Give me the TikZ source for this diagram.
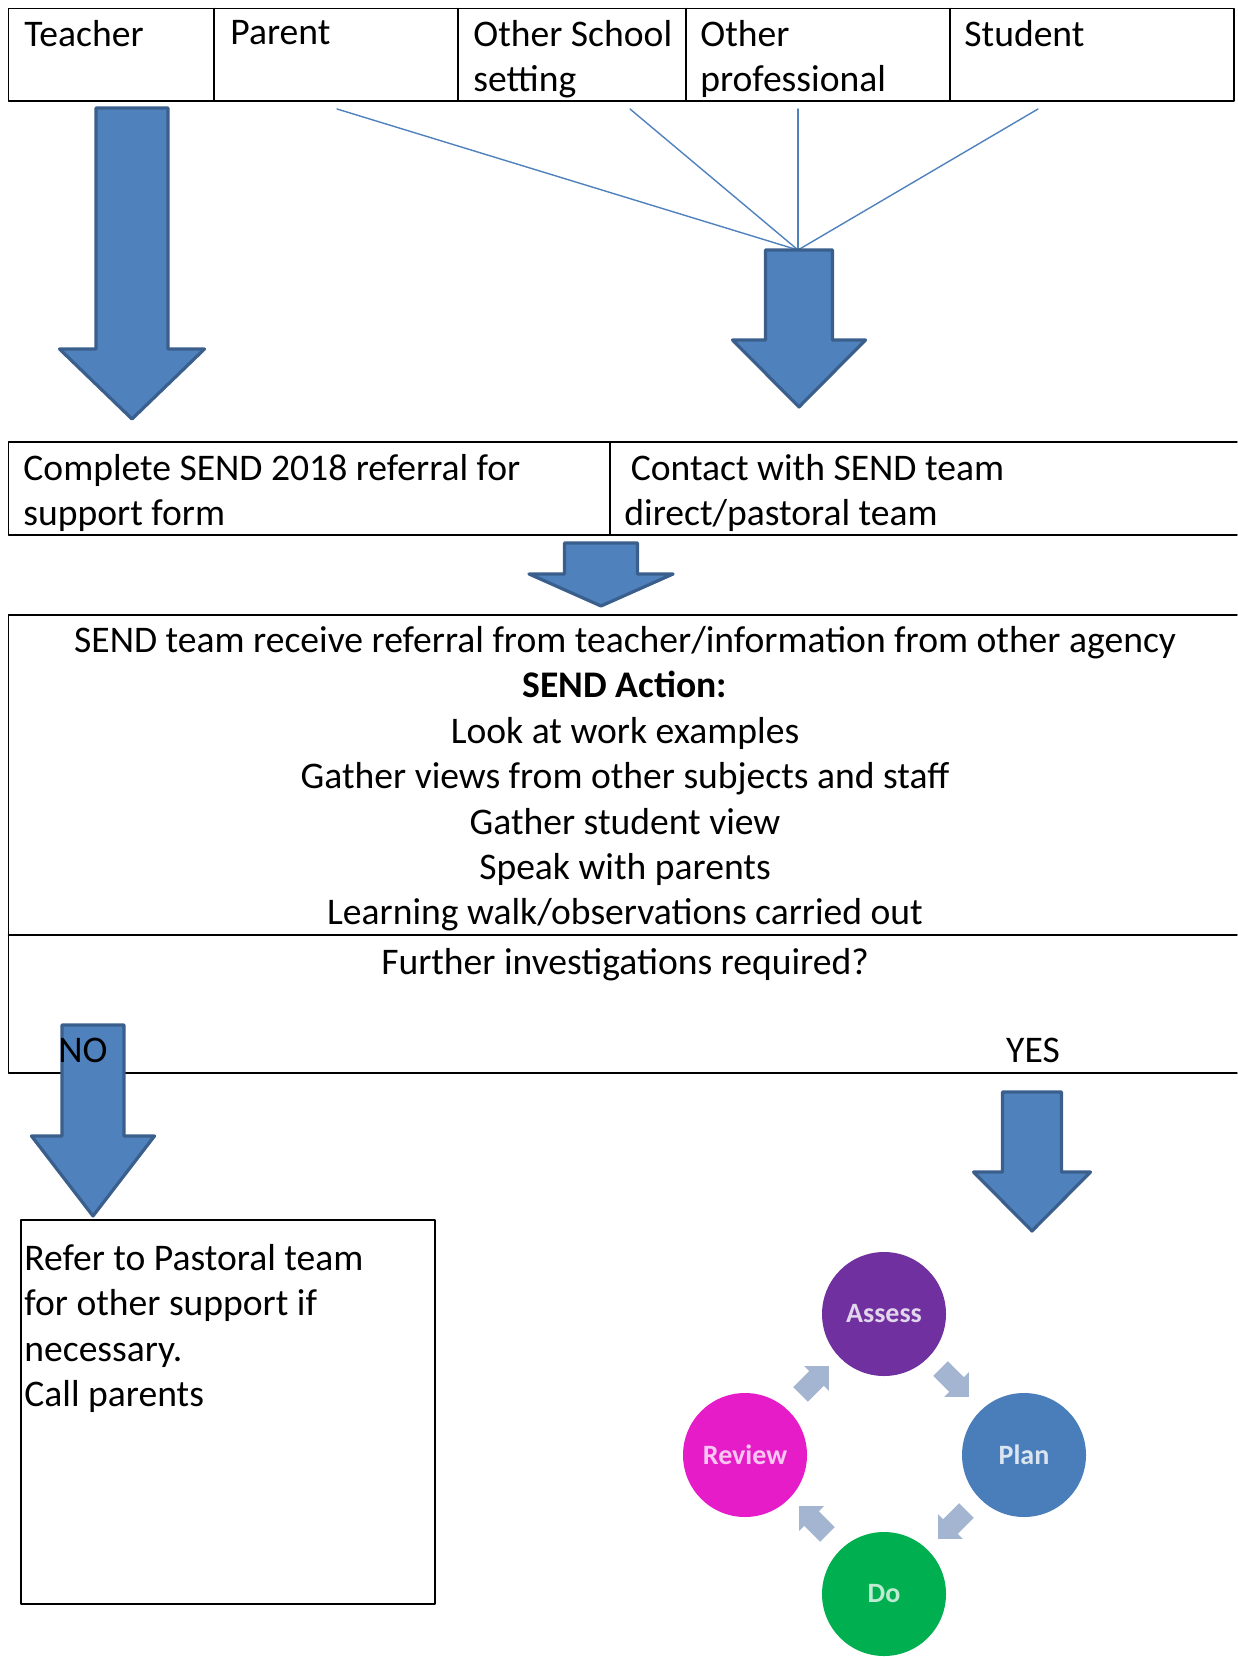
\documentclass[tikz,border=0pt]{standalone}
\usepackage{fontspec}
\setmainfont{Carlito}
\usetikzlibrary{shapes.arrows}

\definecolor{sendblue}{HTML}{4F81BD}
\definecolor{sendedge}{HTML}{3A5F8C}
\definecolor{assesscol}{HTML}{7030A0}
\definecolor{plancol}{HTML}{4A7EBB}
\definecolor{docol}{HTML}{00B050}
\definecolor{reviewcol}{HTML}{E61CC8}
\definecolor{cyclearrow}{HTML}{A3B5D1}

% x, top, head, tip, shaft half width, head half width
\newcommand{\blockarrow}[6]{%
  \draw[blockarrow] (#1-#5,#2) -- (#1+#5,#2) -- (#1+#5,#3) -- (#1+#6,#3)
    -- (#1,#4) -- (#1-#6,#3) -- (#1-#5,#3) -- cycle;}

\begin{document}
\begin{tikzpicture}[x=0.5pt, y=-0.5pt, line cap=round, line join=round]
\tikzstyle{cell}=[draw=black, line width=0.7pt]
\tikzstyle{txt}=[inner sep=0pt, anchor=north west, align=left, font=\fontsize{18.8}{22.7}\selectfont]
\tikzstyle{ctxt}=[txt, anchor=north, align=center]
\tikzstyle{blockarrow}=[fill=sendblue, draw=sendedge, line width=1.6pt]
\tikzstyle{fan}=[draw=sendblue, line width=0.7pt]
\tikzstyle{stage}=[circle, minimum size=62pt, inner sep=0pt, font=\fontsize{14}{14}\selectfont\bfseries]
\tikzstyle{turn}=[single arrow, fill=cyclearrow, minimum height=20pt, inner sep=5pt, single arrow head extend=3.5pt]

\useasboundingbox (0,0) rectangle (1237,1657);

% who raises the concern
\draw[cell] (8.5,8.5) rectangle (1234,101);
\foreach \x in {214,458,686,950} \draw[cell] (\x,8.5) -- (\x,101);
\node[txt] (teacher) at (24,20) {Teacher};
\node[txt] (parent) at (230,20) {Parent};
\node[txt] (otherschool) at (473,20) {Other School\\setting};
\node[txt] (otherprof) at (700,20) {Other\\professional};
\node[txt] (student) at (964,20) {Student};

% lines gathering into the right arrow
\coordinate (hub) at (798,250);
\coordinate (fromparent) at (337,109);
\coordinate (fromschool) at (630,109);
\coordinate (fromprof) at (798,109);
\coordinate (fromstudent) at (1038,109);
\foreach \p in {fromparent,fromschool,fromprof,fromstudent}
  \draw[fan] (\p) -- (hub);

\blockarrow{132}{108}{349}{419}{36}{72.5}
\blockarrow{799}{250}{340}{407}{33.5}{66.5}

% referral row
\draw[cell] (1237,442) -- (8.5,442) -- (8.5,535) -- (1237,535);
\draw[cell] (610,442) -- (610,535);
\node[txt] (referral) at (23,454) {Complete SEND 2018 referral for\\support form};
\node[txt] (contact) at (624,454) {\hspace*{8\pgflinewidth}Contact with SEND team\\direct/pastoral team};

\blockarrow{601}{543}{574}{606}{36.5}{72}

% SEND action
\draw[cell] (1237,615) -- (8.5,615) -- (8.5,1073) -- (1237,1073);
\draw[cell] (8.5,935) -- (1237,935);
\node[ctxt] (sendaction) at (625,626) {SEND team receive referral from teacher/information from other agency\\
  \textbf{SEND Action:}\\Look at work examples\\Gather views from other subjects and staff\\
  Gather student view\\Speak with parents\\Learning walk/observations carried out};
\node[ctxt] (further) at (625,948) {Further investigations required?};

\blockarrow{93}{1025}{1136}{1216}{31}{61.5}
\blockarrow{1032}{1092}{1172}{1231}{29.5}{58.5}
\node[txt, anchor=west] (no) at (58,1050) {NO};
\node[txt, anchor=center] (yes) at (1033,1050) {YES};

% NO branch
\draw[cell] (21,1220) rectangle (435,1604);
\node[txt] (refer) at (24,1244) {Refer to Pastoral team\\for other support if\\necessary.\\Call parents};

% YES branch: the cycle
\node[stage, fill=assesscol, text=white!80!assesscol] (assess) at (884,1314) {Assess};
\node[stage, fill=plancol, text=white!80!plancol] (plan) at (1024,1455) {Plan};
\node[stage, fill=docol, text=white!75!docol] (do) at (884,1594) {Do};
\node[stage, fill=reviewcol, text=white!75!reviewcol] (review) at (745,1455) {Review};
\node[turn, rotate=-45] (a2p) at (951,1379) {};
\node[turn, rotate=-135] (p2d) at (956,1521) {};
\node[turn, rotate=135] (d2r) at (817,1524) {};
\node[turn, rotate=45] (r2a) at (811,1384) {};
\end{tikzpicture}
\end{document}
